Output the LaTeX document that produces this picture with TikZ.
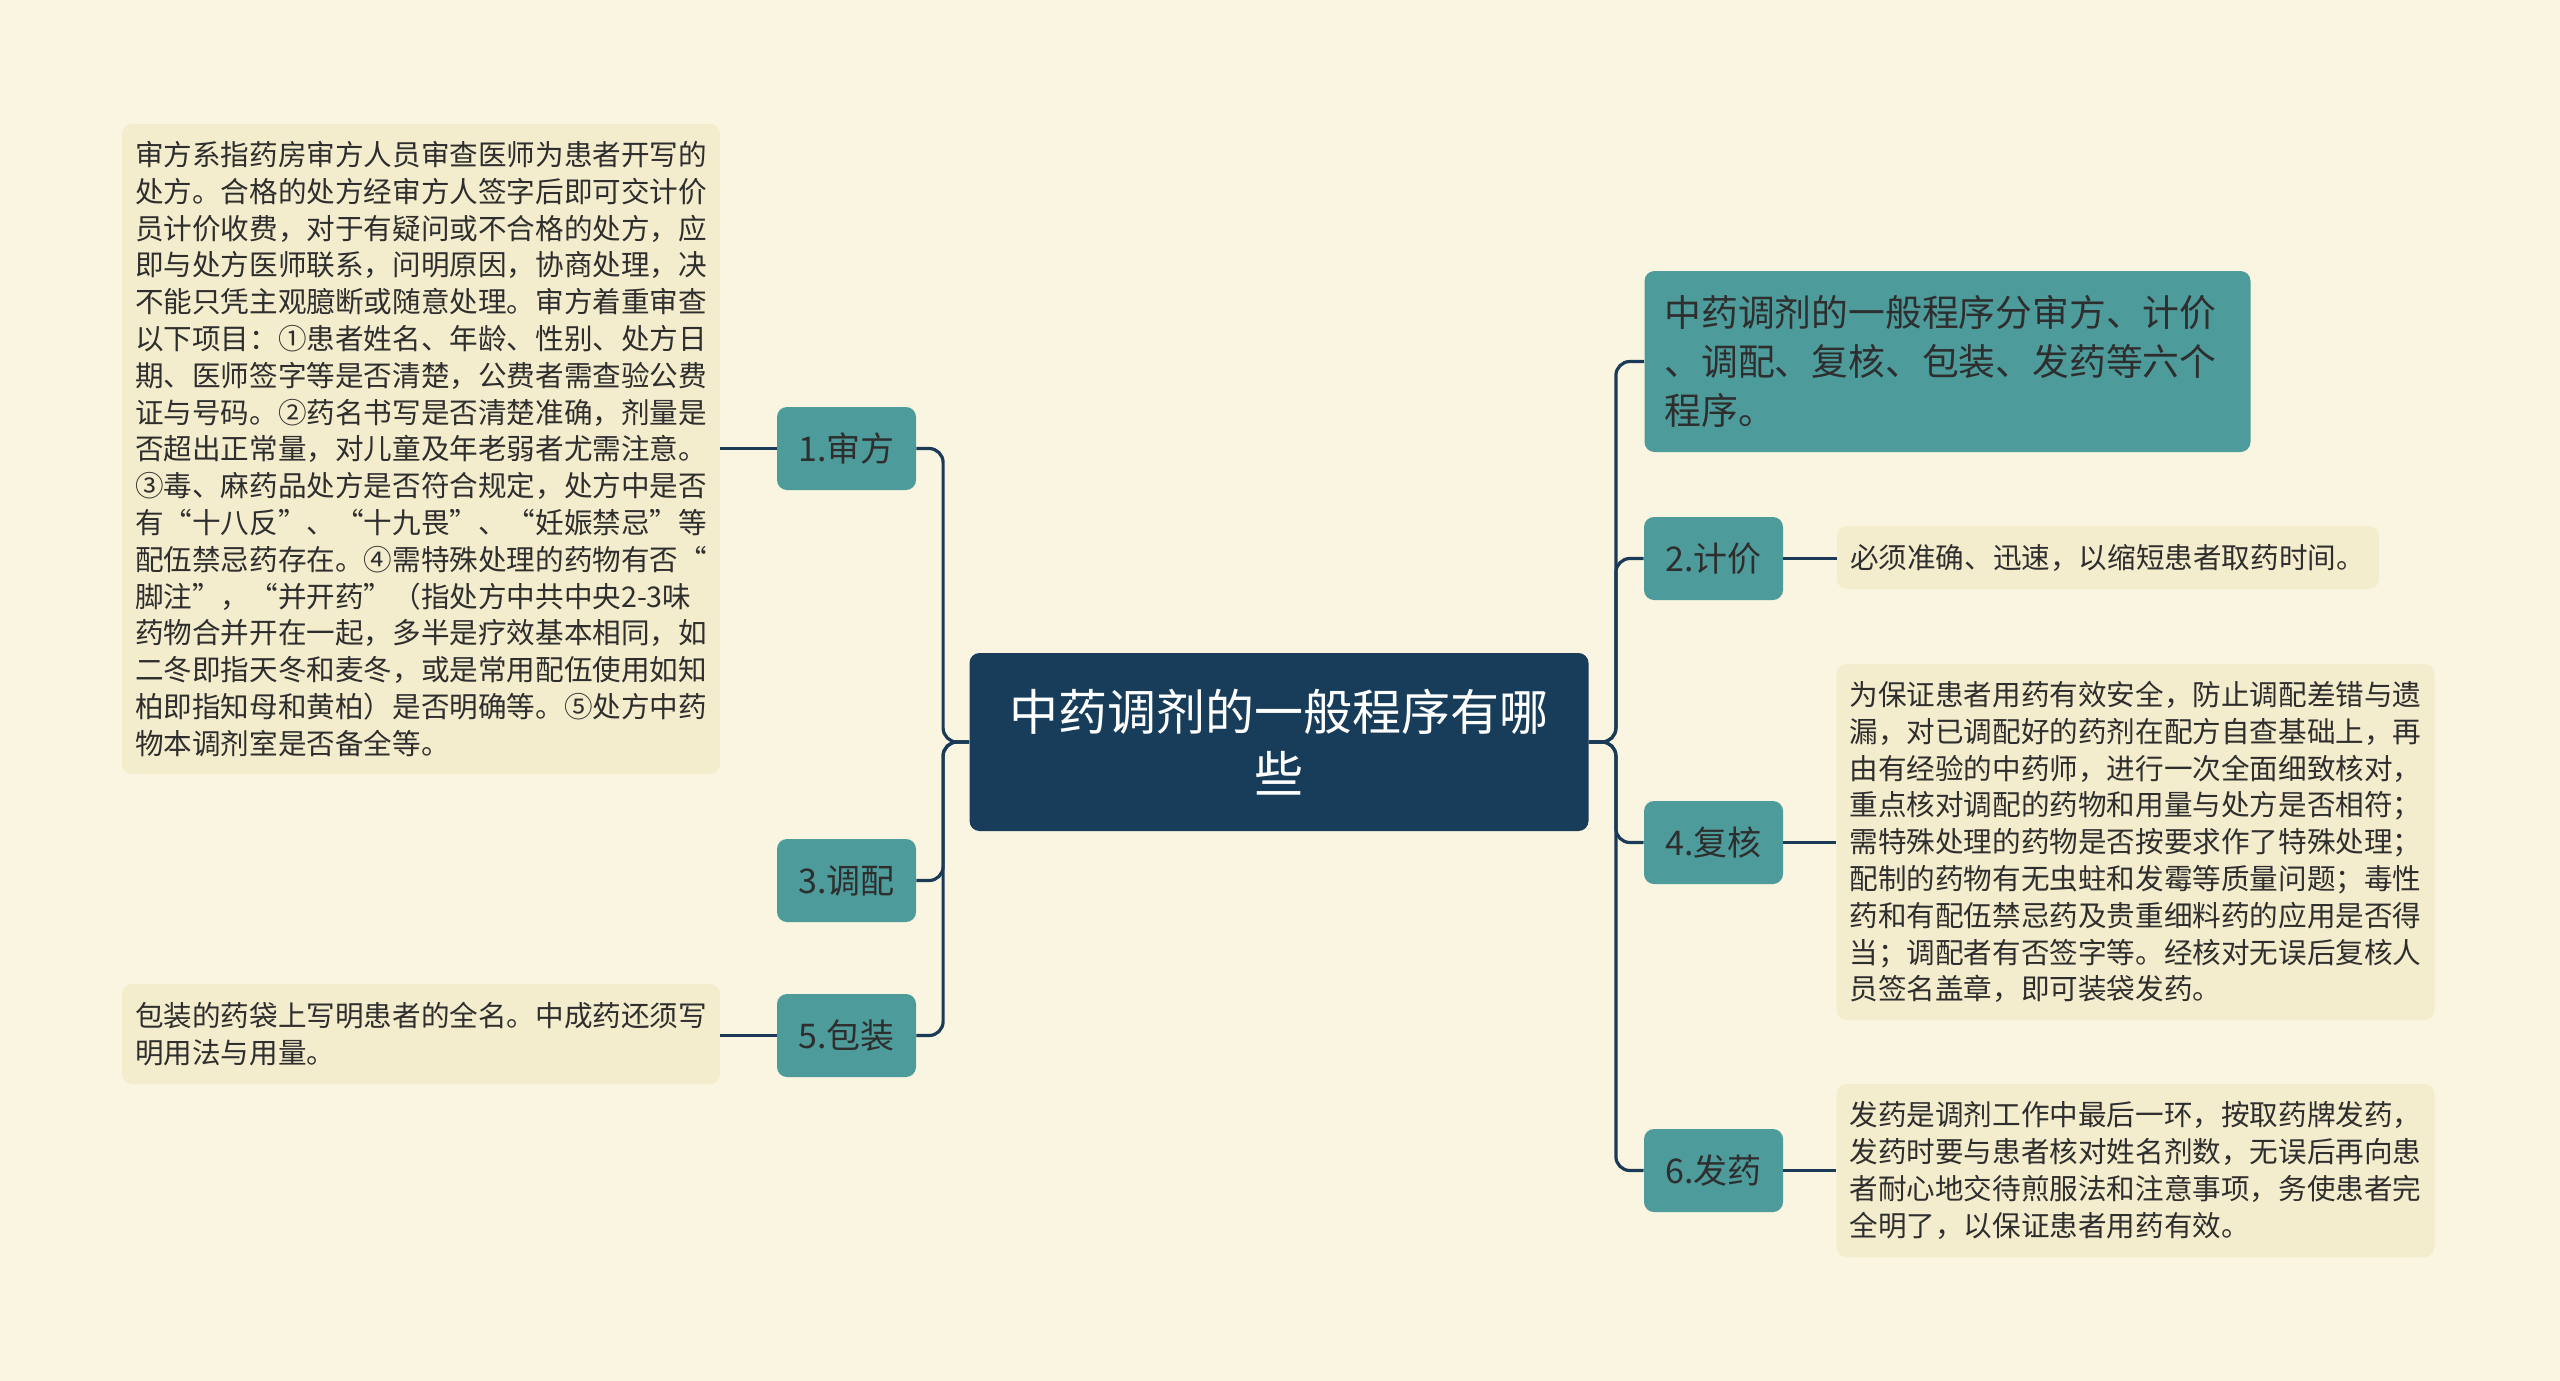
\documentclass[tikz,border=0pt]{standalone}
\usepackage{fontspec}
\setmainfont{Noto Sans CJK SC}
\definecolor{bgc}{HTML}{FAF5E0}
\definecolor{leafc}{HTML}{F4EDCD}
\definecolor{tealc}{HTML}{4E9B9B}
\definecolor{centralc}{HTML}{173D5B}
\definecolor{linec}{HTML}{1B3A58}
\definecolor{textc}{HTML}{2E2E2E}
\tikzset{
  conn/.style={draw=linec, line width=1.6pt, rounded corners=7pt},
  central/.style={fill=centralc, rounded corners=5pt, text=white,
    font=\fontsize{24.5pt}{31pt}\selectfont, align=center,
    minimum width=309.5pt, minimum height=89pt, text width=290pt, inner sep=0pt},
  branch/.style={fill=tealc, rounded corners=5pt, text=textc,
    font=\fontsize{17pt}{20pt}\selectfont,
    minimum width=69.5pt, minimum height=41.5pt, inner sep=0pt},
  topbox/.style={fill=tealc, rounded corners=5pt, text=textc,
    font=\fontsize{18.4pt}{24.5pt}\selectfont, align=left,
    text width=283pt, minimum height=90.5pt, inner xsep=10pt, inner ysep=4pt},
  leaf/.style={fill=leafc, rounded corners=5pt, text=textc,
    font=\fontsize{14.3pt}{18.4pt}\selectfont, align=left,
    inner xsep=6.5pt, inner ysep=5pt},
}
\begin{document}
\begin{tikzpicture}[x=0.5pt,y=-0.5pt]
\fill[bgc] (0,0) rectangle (2560,1381);
\useasboundingbox (0,0) rectangle (2560,1381);

% central
\node[central] (c) at (1279,742) {中药调剂的一般程序有哪\\些};

% left branches
\node[branch] (b1) at (846.5,448.5) {1.审方};
\node[branch] (b3) at (846.5,880.5) {3.调配};
\node[branch] (b5) at (846.5,1035.5) {5.包装};

% right branches
\node[topbox] (t0) at (1947.5,361.5) {中药调剂的一般程序分审方、计价\\、调配、复核、包装、发药等六个\\程序。};
\node[branch] (b2) at (1713.5,558.5) {2.计价};
\node[branch] (b4) at (1713.5,842.5) {4.复核};
\node[branch] (b6) at (1713.5,1170.5) {6.发药};

% leaves
\node[leaf, text width=286pt, minimum height=325pt] (l1) at (421,449) {审方系指药房审方人员审查医师为患者开写的\\处方。合格的处方经审方人签字后即可交计价\\员计价收费，对于有疑问或不合格的处方，应\\即与处方医师联系，问明原因，协商处理，决\\不能只凭主观臆断或随意处理。审方着重审查\\以下项目：①患者姓名、年龄、性别、处方日\\期、医师签字等是否清楚，公费者需查验公费\\证与号码。②药名书写是否清楚准确，剂量是\\否超出正常量，对儿童及年老弱者尤需注意。\\③毒、麻药品处方是否符合规定，处方中是否\\有“十八反”、“十九畏”、“妊娠禁忌”等\\配伍禁忌药存在。④需特殊处理的药物有否“\\脚注”，“并开药”（指处方中共中央2-3味\\药物合并开在一起，多半是疗效基本相同，如\\二冬即指天冬和麦冬，或是常用配伍使用如知\\柏即指知母和黄柏）是否明确等。⑤处方中药\\物本调剂室是否备全等。};
\node[leaf, text width=286pt, minimum height=50pt] (l5) at (421,1034) {包装的药袋上写明患者的全名。中成药还须写\\明用法与用量。};
\node[leaf, text width=258pt, minimum height=31.5pt] (l2) at (2108,557.5) {必须准确、迅速，以缩短患者取药时间。};
\node[leaf, text width=286pt, minimum height=178pt] (l4) at (2135.5,842) {为保证患者用药有效安全，防止调配差错与遗\\漏，对已调配好的药剂在配方自查基础上，再\\由有经验的中药师，进行一次全面细致核对，\\重点核对调配的药物和用量与处方是否相符；\\需特殊处理的药物是否按要求作了特殊处理；\\配制的药物有无虫蛀和发霉等质量问题；毒性\\药和有配伍禁忌药及贵重细料药的应用是否得\\当；调配者有否签字等。经核对无误后复核人\\员签名盖章，即可装袋发药。};
\node[leaf, text width=286pt, minimum height=86.5pt] (l6) at (2135.5,1170.5) {发药是调剂工作中最后一环，按取药牌发药，\\发药时要与患者核对姓名剂数，无误后再向患\\者耐心地交待煎服法和注意事项，务使患者完\\全明了，以保证患者用药有效。};

% connectors center -> branches
\foreach \n in {b1,b3,b5}{
  \draw[conn] (c.west) -- ++(-26,0) |- (\n.east);
}
\foreach \n in {t0,b2,b4,b6}{
  \draw[conn] (c.east) -- ++(27,0) |- (\n.west);
}
% branch -> leaf
\draw[conn] (b1.west) -- (l1.east |- b1.west);
\draw[conn] (b5.west) -- (l5.east |- b5.west);
\draw[conn] (b2.east) -- (l2.west |- b2.east);
\draw[conn] (b4.east) -- (l4.west |- b4.east);
\draw[conn] (b6.east) -- (l6.west |- b6.east);
\end{tikzpicture}
\end{document}
